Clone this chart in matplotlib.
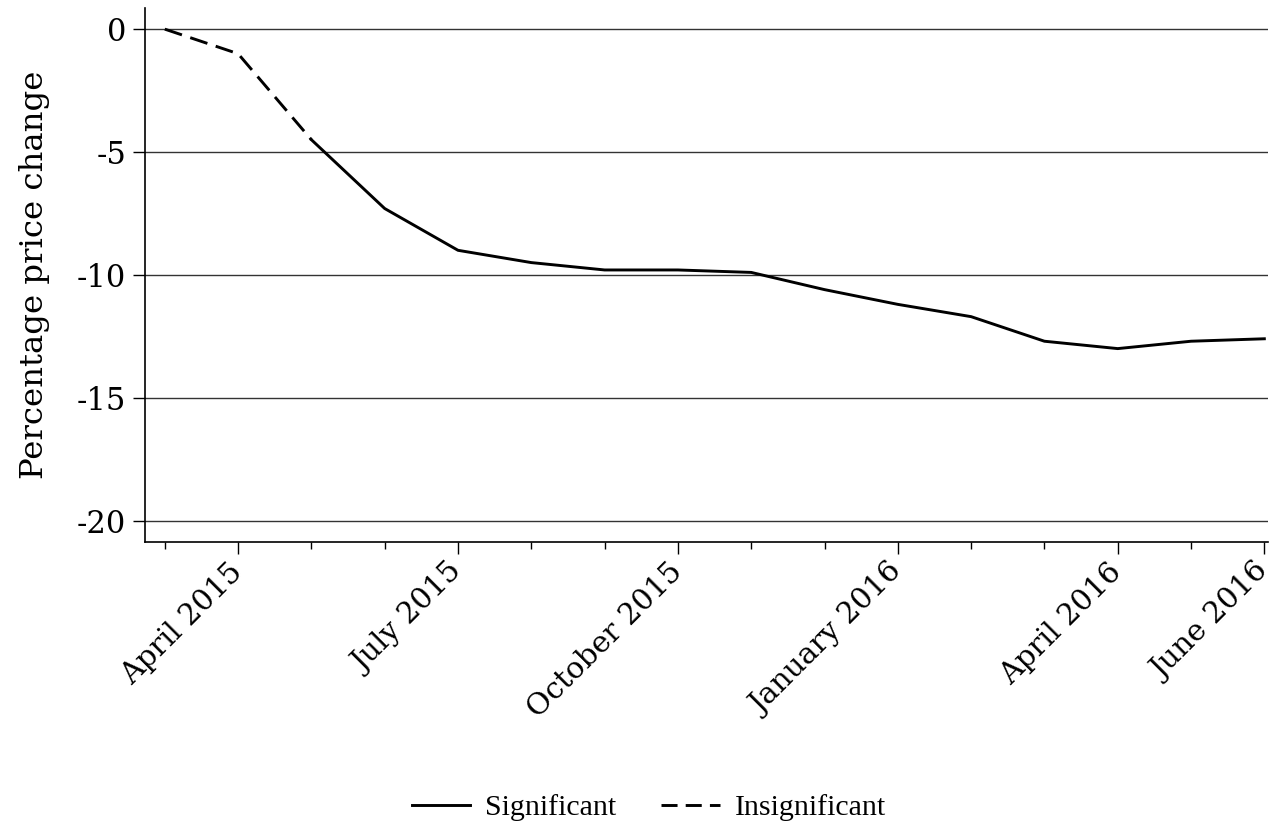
import matplotlib
matplotlib.use("Agg")
import matplotlib.pyplot as plt
from matplotlib.lines import Line2D

# months since March 2015 (0 = Mar 2015 ... 15 = Jun 2016)
months = list(range(16))
price_change = [0.0, -1.0, -4.5, -7.3, -9.0, -9.5, -9.8, -9.8, -9.9,
                -10.6, -11.2, -11.7, -12.7, -13.0, -12.7, -12.6]
insig_end = 2  # first three points are insignificant

major_ticks = [1, 4, 7, 10, 13, 15]
major_labels = ["April 2015", "July 2015", "October 2015",
                "January 2016", "April 2016", "June 2016"]
y_ticks = [0, -5, -10, -15, -20]

plt.rcParams["font.family"] = ["DejaVu Serif"]

fig = plt.figure(figsize=(12.7, 8.27), dpi=100)
ax = fig.add_axes([145 / 1270, 1 - 542 / 827, 1123 / 1270, 534 / 827])

dash = (6.2, 3.0)
ax.plot(months[:insig_end + 1], price_change[:insig_end + 1],
        color="black", lw=2.1, dashes=dash)
ax.plot(months[insig_end:], price_change[insig_end:],
        color="black", lw=2.1)

ax.set_xlim(-0.27, 15.05)
ax.set_ylim(-20.87, 0.86)

ax.set_yticks(y_ticks)
ax.set_yticklabels([str(v) for v in y_ticks], fontsize=22)
ax.yaxis.grid(True, color="#333333", lw=1.0)
ax.set_axisbelow(True)

ax.set_xticks(major_ticks)
ax.set_xticklabels(major_labels, rotation=45, ha="right", va="center",
                   rotation_mode="anchor", fontsize=21.3)
ax.set_xticks([m for m in months if m not in major_ticks], minor=True)
ax.tick_params(axis="x", which="major", length=8.6, width=1.0, pad=10)
ax.tick_params(axis="x", which="minor", length=5, width=1.0)
ax.tick_params(axis="y", length=8.6, width=1.0, pad=5)

ax.set_ylabel("Percentage price change", fontsize=23.3)
ax.yaxis.set_label_coords(-0.0846, 0.5)

for s in ["top", "right"]:
    ax.spines[s].set_visible(False)
for s in ["left", "bottom"]:
    ax.spines[s].set_linewidth(1.2)

handles = [Line2D([], [], color="black", lw=2.1),
           Line2D([], [], color="black", lw=2.1, dashes=(5.5, 2.8))]
fig.legend(handles, ["Significant", "Insignificant"],
           loc="center", bbox_to_anchor=(0.511, 1 - 808 / 827), ncol=2,
           frameon=False, handlelength=1.95,
           columnspacing=1.5, handletextpad=0.5,
           prop={"family": "Liberation Serif", "size": 21.5})

fig.savefig("out.png", dpi=100)
